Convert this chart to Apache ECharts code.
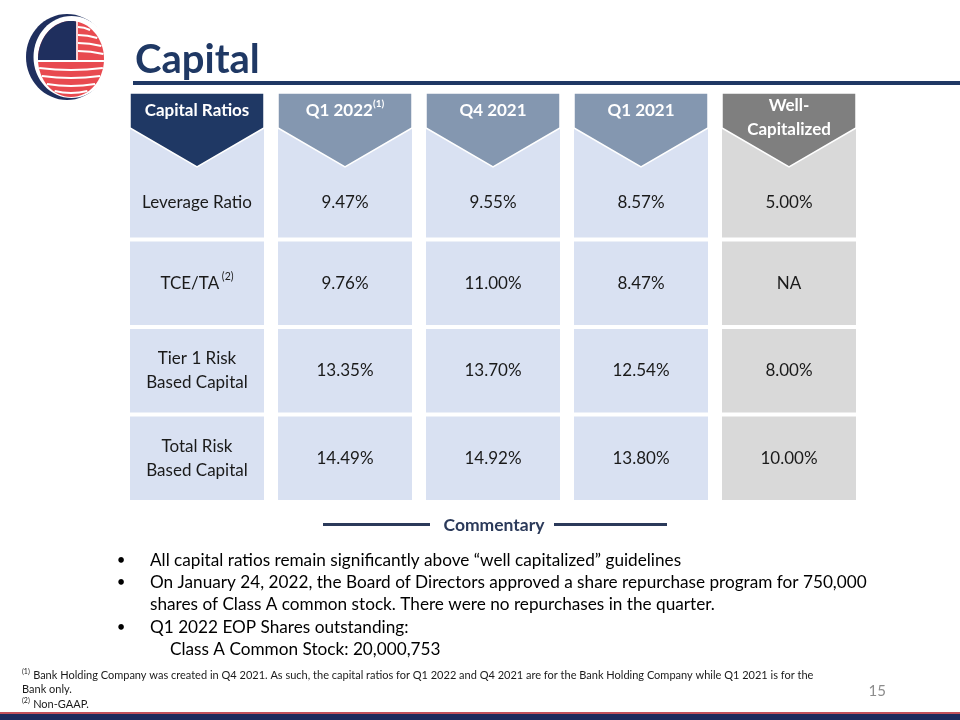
<!DOCTYPE html>
<html><head><meta charset="utf-8">
<script src="https://cdn.jsdelivr.net/npm/echarts@6/dist/echarts.min.js"></script>
<style>html,body{margin:0;padding:0;background:#fff}#c{width:960px;height:720px}</style>
</head><body><div id="c"></div>
<script>
// ---------- data ----------
const columns = ['Capital Ratios', 'Q1 2022', 'Q4 2021', 'Q1 2021', 'Well-\nCapitalized'];
const columnNotes = ['', '(1)', '', '', ''];
const rowLabels = ['Leverage Ratio', 'TCE/TA', 'Tier 1 Risk\nBased Capital', 'Total Risk\nBased Capital'];
const rowNotes = ['', '(2)', '', ''];
const q1_2022 = [9.47, 9.76, 13.35, 14.49];
const q4_2021 = [9.55, 11.00, 13.70, 14.92];
const q1_2021 = [8.57, 8.47, 12.54, 13.80];
const wellCapitalized = [5.00, null, 8.00, 10.00];
const commentaryTitle = 'Commentary';
const commentaryLines = [
  { bullet: true,  text: 'All capital ratios remain significantly above \u201cwell capitalized\u201d guidelines' },
  { bullet: true,  text: 'On January 24, 2022, the Board of Directors approved a share repurchase program for 750,000' },
  { bullet: false, text: 'shares of Class A common stock. There were no repurchases in the quarter.' },
  { bullet: true,  text: 'Q1 2022 EOP Shares outstanding:' },
  { bullet: false, indent: true, text: 'Class A Common Stock: 20,000,753' }
];
const footnoteLines = [
  { note: '(1)', text: 'Bank Holding Company was created in Q4 2021. As such, the capital ratios for Q1 2022 and Q4 2021 are for the Bank Holding Company while Q1 2021 is for the' },
  { note: '', text: 'Bank only.' },
  { note: '(2)', text: 'Non-GAAP.' }
];
const pageNumber = '15';
const slideTitle = 'Capital';

// ---------- styles ----------
const NAVY = '#1F3864';
const FONT = 'Lato, "Noto Sans", sans-serif';
const headerColors = ['#1F3864', '#8497B0', '#8497B0', '#8497B0', '#7F7F7F'];
const bodyColors = ['#D9E1F2', '#D9E1F2', '#D9E1F2', '#D9E1F2', '#D9D9D9'];

const series4 = [null, q1_2022, q4_2021, q1_2021, wellCapitalized];
const cells = [];
rowLabels.forEach((lab, r) => {
  for (let c = 0; c < columns.length; c++) {
    let txt;
    if (c === 0) {
      txt = '{n|' + lab.split('\n').join('}\n{n|') + '}' + (rowNotes[r] ? '{s| ' + rowNotes[r] + '}' : '');
    } else {
      const v = series4[c][r];
      txt = '{n|' + (v == null ? 'NA' : v.toFixed(2) + '%') + '}';
    }
    cells.push({ col: c, row: r, text: txt });
  }
});
const headers = columns.map((name, c) => ({
  col: c,
  text: '{b|' + name.split('\n').join('}\n{b|') + '}' + (columnNotes[c] ? '{s|' + columnNotes[c] + '}' : ''),
  lines: name.split('\n').length
}));

const GAPX = 7;
function renderCell(params, api) {
  const cell = cells[params.dataIndex];
  const p = api.coord([cell.col, cell.row]);
  const sz = api.size([1, 1]);
  const left = p[0] - sz[0] / 2 + GAPX, width = sz[0] - 2 * GAPX;
  const rowTop = p[1] - sz[1] / 2;
  let top = rowTop + 2;
  const bottom = p[1] + sz[1] / 2 - 2;
  let ty = p[1];
  if (cell.row === 0) {
    top = rowTop - 24;
    ty = (rowTop + 15 + bottom) / 2;
  }
  return {
    type: 'group',
    children: [
      { type: 'rect', shape: { x: left, y: top, width: width, height: bottom - top },
        style: { fill: bodyColors[cell.col] } },
      { type: 'text', z2: 5,
        style: { text: cell.text, x: p[0], y: ty, align: 'center', verticalAlign: 'middle',
          rich: { n: { fontFamily: FONT, fontSize: 17, lineHeight: 24, fill: '#1a1a1a' },
                  s: { fontFamily: FONT, fontSize: 10.5, lineHeight: 14, fill: '#1a1a1a', verticalAlign: 'top' } } } }
    ]
  };
}
function renderHeader(params, api) {
  const h = headers[params.dataIndex];
  const p = api.coord([h.col, 0]);
  const sz = api.size([1, 1]);
  const l = p[0] - sz[0] / 2 + GAPX, r = p[0] + sz[0] / 2 - GAPX;
  const rowTop = p[1] - sz[1] / 2;
  const top = rowTop - 59, shoulder = rowTop - 24, tip = rowTop + 15;
  const ty = h.lines > 1 ? rowTop - 34 : rowTop - 41;
  return {
    type: 'group',
    children: [
      { type: 'polygon', shape: { points: [[l, top], [r, top], [r, shoulder], [p[0], tip], [l, shoulder]] },
        style: { fill: headerColors[h.col], stroke: '#ffffff', lineWidth: 1.5 } },
      { type: 'text', z2: 5,
        style: { text: h.text, x: p[0], y: ty, align: 'center', verticalAlign: 'middle',
          rich: { b: { fontFamily: FONT, fontSize: 17, fontWeight: 'bold', lineHeight: 24, fill: '#ffffff' },
                  s: { fontFamily: FONT, fontSize: 10, fontWeight: 'bold', lineHeight: 13, fill: '#ffffff', verticalAlign: 'top' } } } }
    ]
  };
}

// ---------- decorative graphics ----------
const graphics = [];
// logo
(function () {
  const navy = '#1F2F5E', red = '#E84A50';
  graphics.push({ type: 'ellipse', shape: { cx: 67, cy: 57, rx: 41, ry: 43 }, style: { fill: navy } });
  graphics.push({ type: 'ellipse', shape: { cx: 71.5, cy: 57, rx: 38, ry: 41 }, style: { fill: '#fff' } });
  const gx = 71, gy = 59, rx = 33, ry = 38;
  graphics.push({ type: 'ellipse', shape: { cx: gx, cy: gy, rx: rx, ry: ry }, style: { fill: red } });
  const pts = [];
  const a0 = Math.PI - 0.03, a1 = 1.5 * Math.PI + Math.asin(5 / rx);
  for (let i = 0; i <= 24; i++) {
    const a = a0 + (a1 - a0) * i / 24;
    pts.push([gx + rx * Math.cos(a), gy + ry * Math.sin(a)]);
  }
  pts.push([76, 60]);
  graphics.push({ type: 'polygon', shape: { points: pts }, style: { fill: navy } });
  function chord(y) { const d = (y - gy) / ry; return rx * Math.sqrt(Math.max(0, 1 - d * d)); }
  graphics.push({ type: 'line', shape: { x1: gx - chord(61), y1: 61, x2: gx + chord(61), y2: 61 }, style: { stroke: '#fff', lineWidth: 2 } });
  graphics.push({ type: 'line', shape: { x1: 77, y1: gy - ry, x2: 77, y2: 60 }, style: { stroke: '#fff', lineWidth: 1.5 } });
  [28, 36, 44, 52].forEach(y => {
    const hw = chord(y);
    graphics.push({ type: 'bezierCurve', shape: { x1: 78, y1: y - 1, x2: gx + hw, y2: y + 2, cpx1: (78 + gx + hw) / 2, cpy1: y - 1 },
      style: { stroke: '#fff', lineWidth: 2, fill: null } });
  });
  [69, 77, 85, 92].forEach(y => {
    const hw = chord(y);
    graphics.push({ type: 'bezierCurve', shape: { x1: gx - hw, y1: y - 1, x2: gx + hw, y2: y - 1, cpx1: gx, cpy1: y + 3 },
      style: { stroke: '#fff', lineWidth: 2, fill: null } });
  });
})();
// title
graphics.push({ type: 'text', style: { text: slideTitle, x: 135, y: 60, verticalAlign: 'middle',
  font: 'bold 40px ' + FONT, fill: NAVY } });
graphics.push({ type: 'rect', shape: { x: 133, y: 81, width: 827, height: 4 }, style: { fill: NAVY } });
// commentary header
graphics.push({ type: 'rect', shape: { x: 323, y: 523, width: 107, height: 3 }, style: { fill: '#2B3A5A' } });
graphics.push({ type: 'rect', shape: { x: 554, y: 523, width: 113, height: 3 }, style: { fill: '#2B3A5A' } });
graphics.push({ type: 'text', style: { text: commentaryTitle, x: 494, y: 525, align: 'center', verticalAlign: 'middle',
  font: 'bold 17.5px ' + FONT, fill: '#2B3A5A' } });
// bullets
commentaryLines.forEach((ln, i) => {
  const y = 560 + i * 22.4;
  if (ln.bullet) graphics.push({ type: 'text', style: { text: '\u2022', x: 121, y: y, align: 'center', verticalAlign: 'middle', font: '15px ' + FONT, fill: '#000' } });
  graphics.push({ type: 'text', style: { text: ln.text, x: ln.indent ? 170 : 150, y: y, verticalAlign: 'middle', font: '17.2px ' + FONT, fill: '#000' } });
});
// footnotes
footnoteLines.forEach((ln, i) => {
  const y = 675 + i * 14.5;
  graphics.push({ type: 'text', style: {
    text: (ln.note ? '{s|' + ln.note + '} ' : '') + '{t|' + ln.text + '}', x: 22, y: y, verticalAlign: 'middle',
    rich: { t: { fontFamily: FONT, fontSize: 11, lineHeight: 14, fill: '#1a1a1a' },
            s: { fontFamily: FONT, fontSize: 7, lineHeight: 9, fill: '#1a1a1a', verticalAlign: 'top' } } } });
});
graphics.push({ type: 'text', style: { text: pageNumber, x: 886, y: 691, align: 'right', verticalAlign: 'middle', font: '15px ' + FONT, fill: '#8C8C8C' } });
// bottom bar
graphics.push({ type: 'rect', shape: { x: 0, y: 712, width: 960, height: 2 }, style: { fill: '#C4515A' } });
graphics.push({ type: 'rect', shape: { x: 0, y: 714, width: 960, height: 6 }, style: { fill: '#1F2A5C' } });

const chart = echarts.init(document.getElementById('c'), null, { renderer: 'canvas' });
chart.setOption({
  animation: false,
  backgroundColor: '#ffffff',
  grid: { left: 123, width: 740, top: 152, height: 350 },
  xAxis: { type: 'category', data: columns, show: false },
  yAxis: { type: 'category', data: rowLabels, inverse: true, show: false },
  graphic: graphics,
  series: [
    { type: 'custom', renderItem: renderCell, data: cells.map(c => [c.col, c.row]), encode: { x: 0, y: 1 }, z: 2 },
    { type: 'custom', renderItem: renderHeader, data: headers.map(h => [h.col, 0]), encode: { x: 0, y: 1 }, z: 3 }
  ]
});
</script>
</body></html>
